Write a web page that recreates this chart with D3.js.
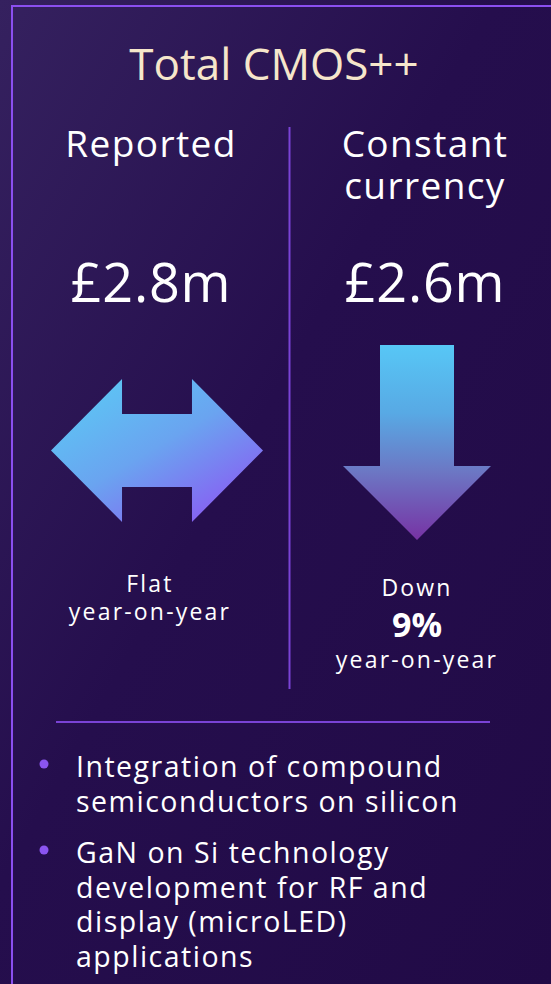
<!DOCTYPE html>
<html>
<head>
<meta charset="utf-8">
<script src="https://cdn.jsdelivr.net/npm/d3@7"></script>
<style>
  html, body { margin: 0; padding: 0; background: #2f1b58; }
  svg { display: block; font-family: "Open Sans", "Noto Sans", sans-serif; }
</style>
</head>
<body>
<div id="chart"></div>
<script>
var width = 551,
    height = 984;

// data
var title = 'Total CMOS++';
var columns = ['Reported', 'Constant currency'];
var headLines = [['Reported'], ['Constant', 'currency']];
var values = ['£2.8m', '£2.6m'];
var changes = [0, -9];               // % year-on-year
var changeWords = ['Flat', 'Down'];
var changeNote = 'year-on-year';
var bullets = [
  ['Integration of compound', 'semiconductors on silicon'],
  ['GaN on Si technology', 'development for RF and', 'display (microLED)', 'applications']
];

var svg = d3.select('#chart')
    .append('svg')
    .attr('width', width)
    .attr('height', height);

var defs = svg.append('defs');

var bg = defs.append('linearGradient').attr('id', 'bg')
    .attr('x1', 0).attr('y1', 0).attr('x2', 1).attr('y2', 1);
bg.append('stop').attr('offset', 0).attr('stop-color', '#35215f');
bg.append('stop').attr('offset', 0.45).attr('stop-color', '#250e4d');
bg.append('stop').attr('offset', 1).attr('stop-color', '#210a46');

var gradFlat = defs.append('linearGradient').attr('id', 'gFlat')
    .attr('x1', 0.15).attr('y1', 0.1).attr('x2', 0.9).attr('y2', 0.95);
gradFlat.append('stop').attr('offset', 0).attr('stop-color', '#5dc4f4');
gradFlat.append('stop').attr('offset', 0.45).attr('stop-color', '#6aa4f0');
gradFlat.append('stop').attr('offset', 1).attr('stop-color', '#8c56f3');

var gradDown = defs.append('linearGradient').attr('id', 'gDown')
    .attr('x1', 0).attr('y1', 0).attr('x2', 0).attr('y2', 1);
gradDown.append('stop').attr('offset', 0).attr('stop-color', '#57c7f6');
gradDown.append('stop').attr('offset', 0.35).attr('stop-color', '#58a9e4');
gradDown.append('stop').attr('offset', 0.65).attr('stop-color', '#6c77c4');
gradDown.append('stop').attr('offset', 1).attr('stop-color', '#7732a4');

svg.append('rect')
    .attr('width', width).attr('height', height)
    .attr('fill', 'url(#bg)');

// frame
svg.append('path')
    .attr('d', 'M' + 12 + ',' + height + 'V' + 6 + 'H' + width)
    .attr('fill', 'none')
    .attr('stroke', '#8b4ff0')
    .attr('stroke-width', 2);

svg.append('text')
    .attr('x', 274).attr('y', 80)
    .attr('text-anchor', 'middle')
    .attr('fill', '#f6e6cb')
    .style('font-size', '44px')
    .text(title);

// column centres
var colX = d3.scaleOrdinal().domain(columns).range([151, 425]);

// divider
svg.append('line')
    .attr('x1', 289.5).attr('x2', 289.5)
    .attr('y1', 127).attr('y2', 689)
    .attr('stroke', '#7a43d6').attr('stroke-width', 2);

var col = svg.selectAll('g.col')
    .data(columns)
    .enter().append('g')
    .attr('class', 'col')
    .attr('transform', function (d) { return 'translate(' + colX(d) + ',0)'; });

col.each(function (d, i) {
  var g = d3.select(this);
  g.selectAll('text.head')
      .data(headLines[i])
      .enter().append('text')
      .attr('class', 'head')
      .attr('text-anchor', 'middle')
      .attr('y', function (t, j) { return 157 + j * 42; })
      .attr('fill', '#ffffff')
      .style('font-size', '37px')
      .style('letter-spacing', '1.4px')
      .text(function (t) { return t; });

  g.append('text')
      .attr('text-anchor', 'middle')
      .attr('y', 302)
      .attr('fill', '#ffffff')
      .style('font-size', '54px')
      .style('letter-spacing', '0.8px')
      .text(values[i]);
});

// arrow shapes in unit space, mapped through scales
var arrowY = d3.scaleLinear().domain([0, 1]).range([379, 522]);
var arrowX = d3.scaleLinear().domain([0, 1]).range([51, 263]);

function flatArrow() {
  var pts = [[0, 0.5], [0.335, 0], [0.335, 0.245], [0.665, 0.245], [0.665, 0],
             [1, 0.5], [0.665, 1], [0.665, 0.755], [0.335, 0.755], [0.335, 1]];
  return d3.line().x(function (p) { return arrowX(p[0]); })
      .y(function (p) { return arrowY(p[1]); })(pts) + 'Z';
}

var downX = d3.scaleLinear().domain([0, 1]).range([343, 491]);
var downY = d3.scaleLinear().domain([0, 1]).range([345, 540]);

function downArrow() {
  var pts = [[0.25, 0], [0.75, 0], [0.75, 0.62], [1, 0.62], [0.5, 1], [0, 0.62], [0.25, 0.62]];
  return d3.line().x(function (p) { return downX(p[0]); })
      .y(function (p) { return downY(p[1]); })(pts) + 'Z';
}

svg.append('g').selectAll('path.arrow')
    .data(changes)
    .enter().append('path')
    .attr('class', 'arrow')
    .attr('d', function (d) { return d === 0 ? flatArrow() : downArrow(); })
    .attr('fill', function (d) { return d === 0 ? 'url(#gFlat)' : 'url(#gDown)'; });

// change captions
var capStyle = function (t) {
  return t.attr('text-anchor', 'middle').attr('fill', '#fff')
      .style('font-size', '23px').style('letter-spacing', '2.2px');
};

var c0 = svg.append('g').attr('transform', 'translate(150,0)');
c0.append('text').attr('y', 592).call(capStyle).text(changeWords[0]);
c0.append('text').attr('y', 620).call(capStyle).text(changeNote);

var c1 = svg.append('g').attr('transform', 'translate(417,0)');
c1.append('text').attr('y', 596).call(capStyle).text(changeWords[1]);
c1.append('text').attr('text-anchor', 'middle').attr('y', 637)
    .attr('fill', '#fff').style('font-size', '34px').style('font-weight', 700)
    .text(Math.abs(changes[1]) + '%');
c1.append('text').attr('y', 668).call(capStyle).text(changeNote);

// separator
svg.append('line')
    .attr('x1', 56).attr('x2', 490)
    .attr('y1', 722).attr('y2', 722)
    .attr('stroke', '#7a43d6').attr('stroke-width', 2);

// bullets
var lineH = 34.7;
var starts = [777, 863];
var bl = svg.selectAll('g.bullet')
    .data(bullets)
    .enter().append('g')
    .attr('class', 'bullet')
    .attr('transform', function (d, i) { return 'translate(0,' + starts[i] + ')'; });

bl.append('circle')
    .attr('cx', 44).attr('cy', -13)
    .attr('r', 4.5)
    .attr('fill', '#8b55f0');

bl.selectAll('text')
    .data(function (d) { return d; })
    .enter().append('text')
    .attr('x', 76)
    .attr('y', function (d, j) { return j * lineH; })
    .attr('fill', '#fff')
    .style('font-size', '28.5px')
    .style('letter-spacing', '1.5px')
    .text(function (d) { return d; });
</script>
</body>
</html>
